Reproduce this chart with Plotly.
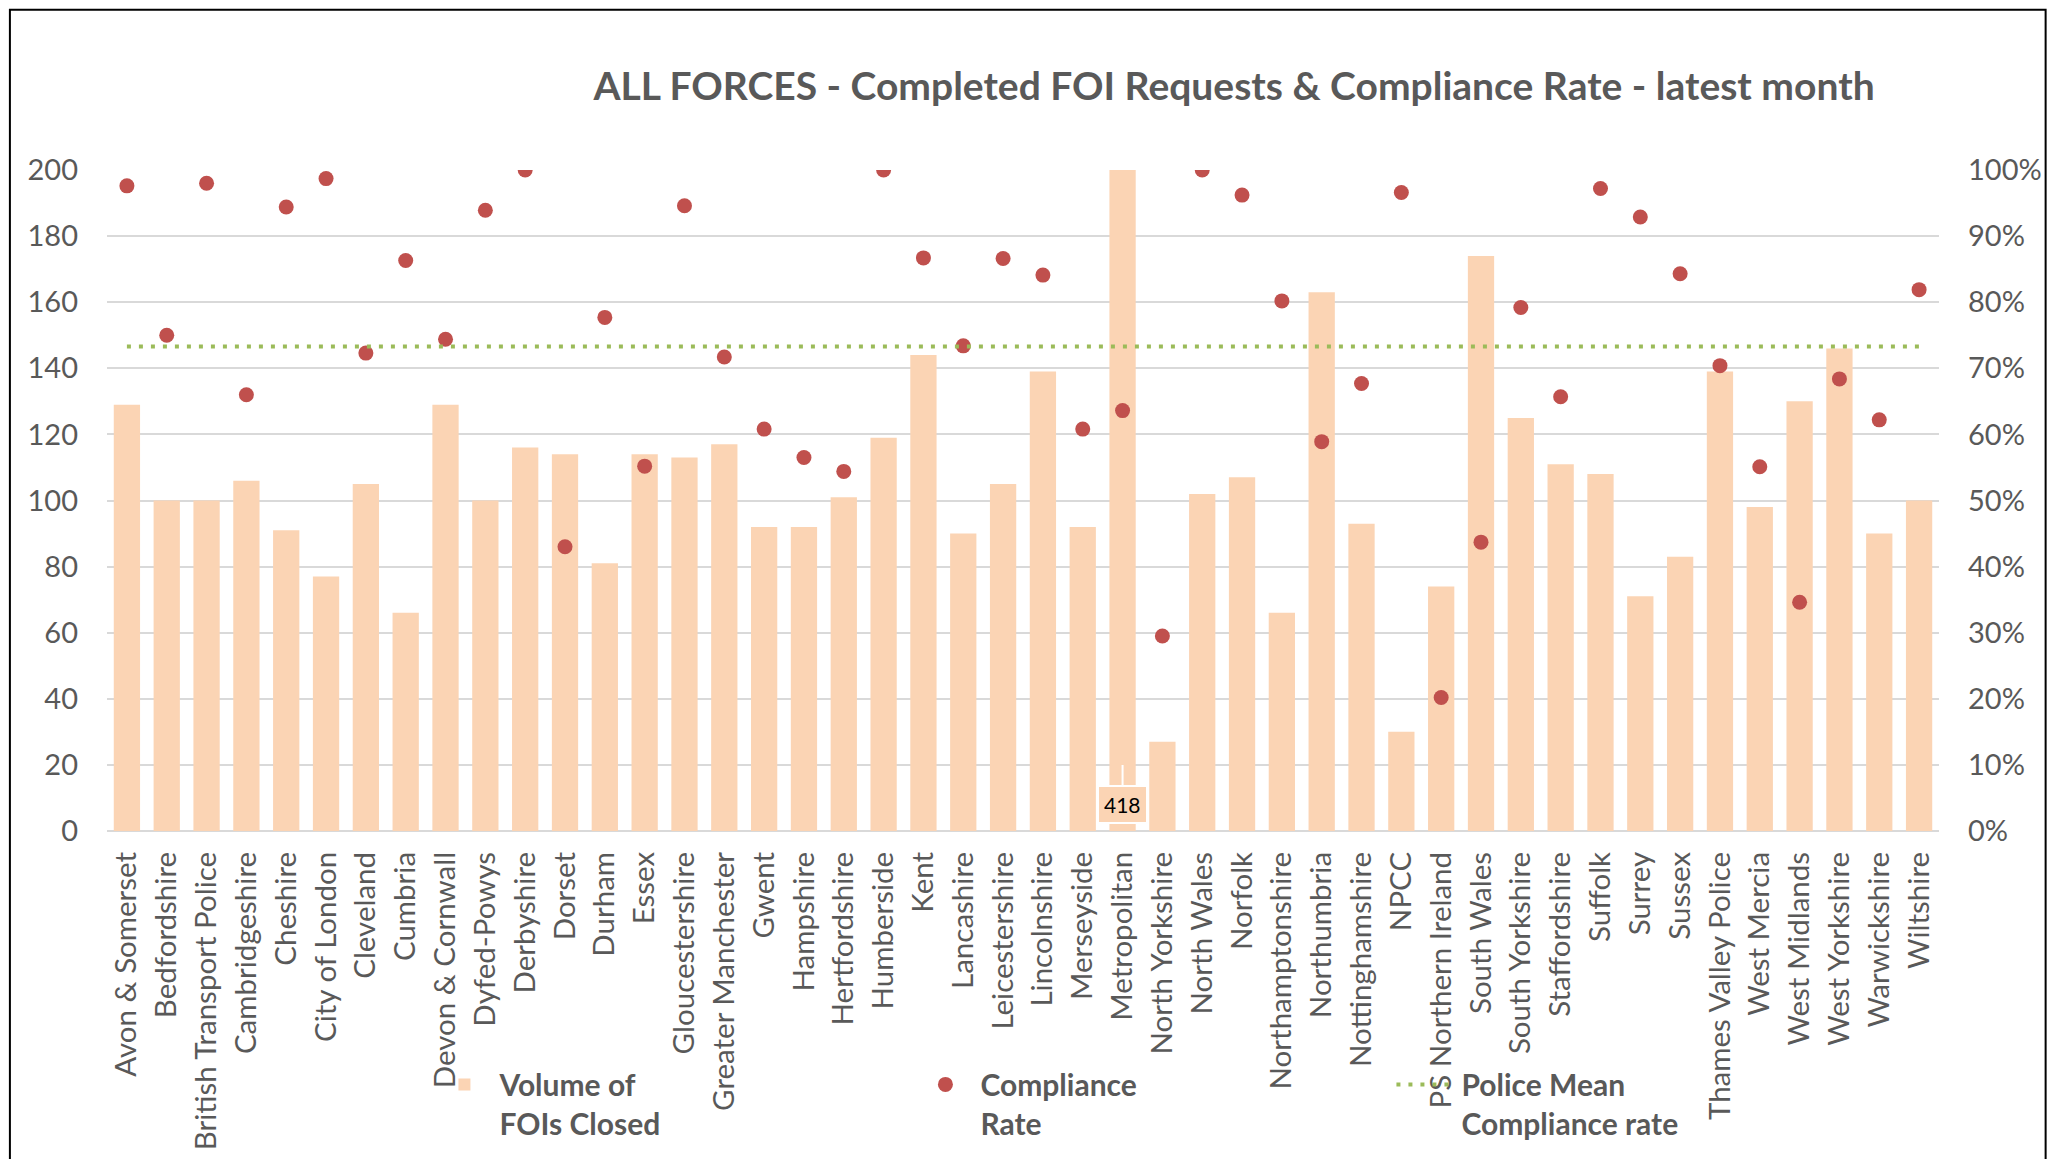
import plotly.graph_objects as go

forces = ["Avon & Somerset", "Bedfordshire", "British Transport Police", "Cambridgeshire", "Cheshire",
          "City of London", "Cleveland", "Cumbria", "Devon & Cornwall", "Dyfed-Powys", "Derbyshire",
          "Dorset", "Durham", "Essex", "Gloucestershire", "Greater Manchester", "Gwent", "Hampshire",
          "Hertfordshire", "Humberside", "Kent", "Lancashire", "Leicestershire", "Lincolnshire",
          "Merseyside", "Metropolitan", "North Yorkshire", "North Wales", "Norfolk", "Northamptonshire",
          "Northumbria", "Nottinghamshire", "NPCC", "PS Northern Ireland", "South Wales",
          "South Yorkshire", "Staffordshire", "Suffolk", "Surrey", "Sussex", "Thames Valley Police",
          "West Mercia", "West Midlands", "West Yorkshire", "Warwickshire", "Wiltshire"]

fois_closed = [129, 100, 100, 106, 91, 77, 105, 66, 129, 100, 116, 114, 81, 114, 113, 117, 92, 92,
               101, 119, 144, 90, 105, 139, 92, 418, 27, 102, 107, 66, 163, 93, 30, 74, 174, 125,
               111, 108, 71, 83, 139, 98, 130, 146, 90, 100]

compliance = [0.976, 0.750, 0.980, 0.660, 0.944, 0.987, 0.723, 0.863, 0.744, 0.939, 1.000, 0.430,
              0.777, 0.552, 0.946, 0.717, 0.608, 0.565, 0.544, 1.000, 0.867, 0.734, 0.866, 0.841,
              0.608, 0.636, 0.295, 1.000, 0.962, 0.802, 0.589, 0.677, 0.966, 0.202, 0.437, 0.792,
              0.657, 0.972, 0.929, 0.843, 0.704, 0.551, 0.346, 0.684, 0.622, 0.819]

police_mean = 0.733

left_ticks = list(range(0, 201, 20))
right_ticks = [i / 10 for i in range(0, 11)]

TXT = "#595959"
BAR = "#FBD4B4"
DOT = "#C0504D"
MEAN = "#9BBB59"
FONT = "Lato"

fig = go.Figure()
fig.add_trace(go.Bar(
    x=forces, y=fois_closed, name="<b>Volume of<br>FOIs Closed</b>",
    marker=dict(color=BAR, line=dict(width=0)), yaxis="y",
))
fig.add_trace(go.Scatter(
    x=forces, y=compliance, name="<b>Compliance<br>Rate</b>", mode="markers",
    marker=dict(color=DOT, size=15), yaxis="y2",
))
fig.add_trace(go.Scatter(
    x=forces, y=[police_mean] * len(forces), name="<b>Police Mean<br>Compliance rate</b>", mode="lines",
    line=dict(color=MEAN, width=4, dash="4px,8px"), yaxis="y2",
))

ymax = left_ticks[-1]
met_idx = forces.index("Metropolitan")
fig.add_annotation(
    x=forces[met_idx], y=ymax * 0.1, xref="x", yref="y",
    text=str(fois_closed[met_idx]), showarrow=True, ax=0, ay=40,
    arrowcolor="white", arrowwidth=2, arrowhead=0,
    bgcolor=BAR, bordercolor="white", borderwidth=2, borderpad=5,
    font=dict(family=FONT, size=21, color="black"),
)

# outer chart border
fig.add_shape(type="rect", xref="paper", yref="paper",
              x0=-0.053, x1=1.0582, y0=-0.62, y1=1.2425,
              line=dict(color="black", width=2), fillcolor="rgba(0,0,0,0)", layer="below")

fig.update_layout(
    width=2052, height=1151,
    margin=dict(l=99, r=121, t=162, b=328, autoexpand=False),
    paper_bgcolor="white", plot_bgcolor="white",
    title=dict(text="<b>ALL FORCES - Completed FOI Requests &amp; Compliance Rate - latest month</b>",
               x=0.5975, xanchor="center", y=0.932, yanchor="middle",
               font=dict(family=FONT, size=39, color=TXT)),
    bargap=0.34,
    xaxis=dict(range=[-0.5, len(forces) - 0.5], tickangle=-90, automargin=False,
               tickfont=dict(family=FONT, size=29.5, color=TXT),
               showgrid=False, showline=False, ticks="", ticklabelstandoff=14),
    yaxis=dict(range=[0, ymax], tickvals=left_ticks, tickfont=dict(family=FONT, size=29, color=TXT),
               showgrid=True, gridcolor="#D9D9D9", gridwidth=1.6, zeroline=True, automargin=False,
               zerolinecolor="#D9D9D9", zerolinewidth=1.6, showline=False, ticks="",
               ticklabelstandoff=28),
    yaxis2=dict(range=[0, 1], tickvals=right_ticks, tickformat=".0%", overlaying="y", side="right",
                tickfont=dict(family=FONT, size=29, color=TXT), showgrid=False, zeroline=False,
                showline=False, ticks="", ticklabelstandoff=28, automargin=False),
    legend=dict(orientation="h", x=0.176, xanchor="left", y=-0.344, yanchor="top",
                entrywidth=406, entrywidthmode="pixels", valign="top",
                bgcolor="rgba(0,0,0,0)", font=dict(family=FONT, size=30, color=TXT),
                traceorder="normal", itemwidth=60),
    showlegend=True,
)

fig.write_html("out.html")
